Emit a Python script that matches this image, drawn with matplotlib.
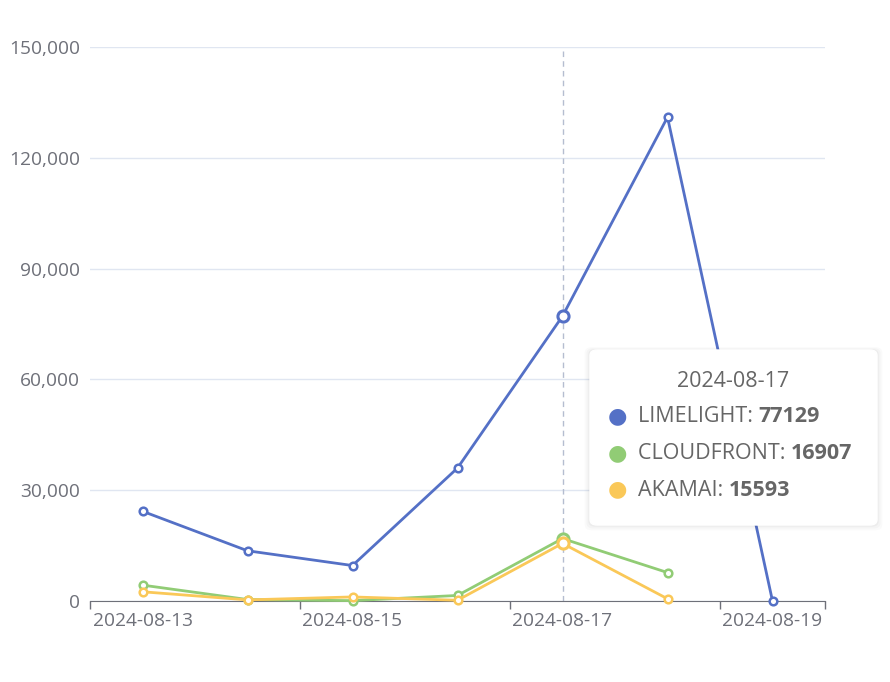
import matplotlib.pyplot as plt
from matplotlib.patches import FancyBboxPatch

dates = ["2024-08-13", "2024-08-14", "2024-08-15", "2024-08-16",
         "2024-08-17", "2024-08-18", "2024-08-19"]
limelight = [24300, 13600, 9600, 36000, 77129, 131000, 0]
cloudfront = [4300, 400, 100, 1500, 16907, 7700]
akamai = [2500, 300, 1100, 200, 15593, 600]

series = [("LIMELIGHT", limelight, "#5470c6"),
          ("CLOUDFRONT", cloudfront, "#91cc75"),
          ("AKAMAI", akamai, "#fac858")]
hover = 4  # index of 2024-08-17

plt.rcParams['font.family'] = ['Open Sans', 'DejaVu Sans']
axis_col = "#6e7079"

fig = plt.figure(figsize=(8.9, 6.82), dpi=100)
ax = fig.add_axes([90 / 890, 1 - 601 / 682, 735 / 890, 554 / 682])

for name, vals, col in series:
    xs = list(range(len(vals)))
    ax.plot(xs, vals, color=col, lw=2.0, marker="o", ms=5.5, mfc="white",
            mec=col, mew=1.8, zorder=3, clip_on=False)
    ax.plot([hover], [vals[hover]], marker="o", ms=8, mfc="white", mec=col,
            mew=2.2, zorder=4, clip_on=False)

# axis pointer
ax.axvline(hover, color="#b5bdd0", lw=1, ls=(0, (4, 3)), zorder=2)

ax.set_xlim(-0.5, 6.5)
ax.set_ylim(0, 150000)
ax.set_yticks(range(0, 150001, 30000))
ax.set_yticklabels([f"{v:,}" for v in range(0, 150001, 30000)])
ax.grid(axis="y", color="#e0e6f1", lw=1)
ax.set_axisbelow(True)

ax.set_xticks([-0.5, 1.5, 3.5, 5.5, 6.5])
ax.set_xticklabels([])
ax.set_xticks([0, 2, 4, 6], minor=True)
ax.set_xticklabels([dates[i] for i in [0, 2, 4, 6]], minor=True)
ax.tick_params(axis="x", which="major", length=6, color=axis_col, width=1)
ax.tick_params(axis="x", which="minor", length=0, pad=8, labelsize=13.8,
               labelcolor=axis_col)
ax.tick_params(axis="y", length=0, pad=7, labelsize=13.8, labelcolor=axis_col)

for s in ["top", "right", "left"]:
    ax.spines[s].set_visible(False)
ax.spines["bottom"].set_color(axis_col)

# tooltip
x0, y0, w, h = 590 / 890, 1 - 525 / 682, 287 / 890, 175 / 682
for i, a in enumerate([0.02, 0.025, 0.03]):
    off = (3 - i) * 0.002
    fig.patches.append(FancyBboxPatch((x0 - off, y0 - off * 1.3), w + 2 * off, h + 2 * off,
                                      boxstyle="round,pad=0,rounding_size=0.008",
                                      transform=fig.transFigure, fc="black", ec="none",
                                      alpha=a, zorder=9))
fig.patches.append(FancyBboxPatch((x0, y0), w, h,
                                  boxstyle="round,pad=0,rounding_size=0.008",
                                  transform=fig.transFigure, fc="white", ec="white",
                                  zorder=10))
fig.text(733 / 890, 1 - 382 / 682, dates[hover], ha="center", va="center",
         fontsize=15.5, color="#666666", zorder=11)
for k, (name, vals, col) in enumerate(series):
    yy = 1 - (417 + k * 36.5) / 682
    fig.text(617 / 890, yy, "\u25cf", ha="center", va="center", fontsize=16,
             color=col, zorder=11)
    t = fig.text(638 / 890, yy, name + ": ", ha="left", va="center",
                 fontsize=15.5, color="#666666", zorder=11)
    fig.canvas.draw()
    bb = t.get_window_extent()
    fig.text(bb.x1 / fig.bbox.width, yy, str(vals[hover]), ha="left", va="center",
             fontsize=15.5, color="#666666", fontweight="bold", zorder=11)

fig.savefig("out.png", dpi=100)
